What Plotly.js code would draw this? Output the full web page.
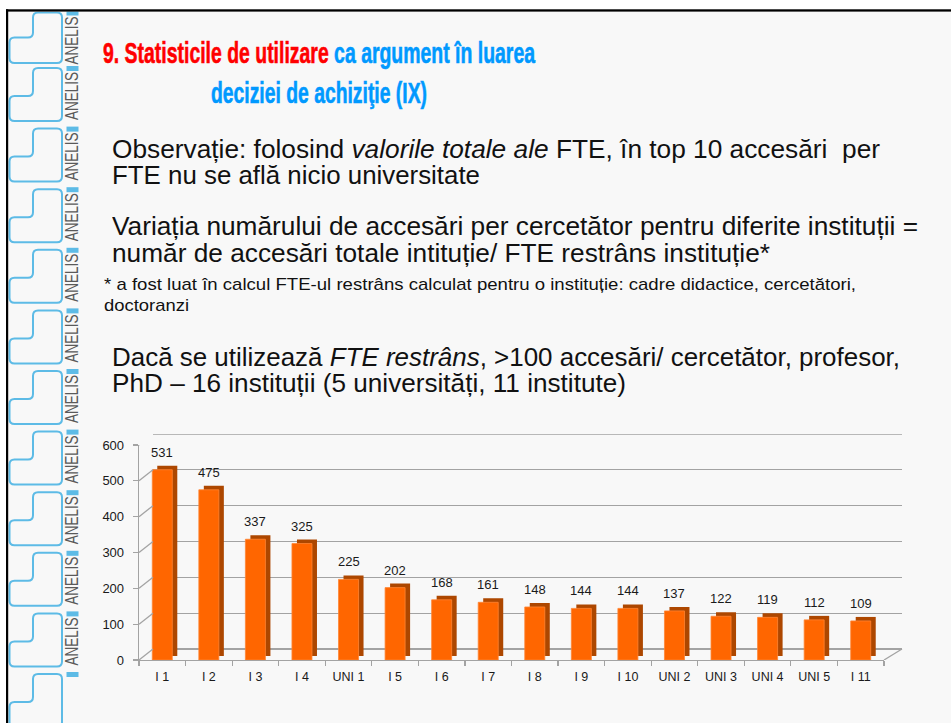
<!DOCTYPE html>
<html>
<head>
<meta charset="utf-8">
<script src="https://cdn.plot.ly/plotly-3.0.1.min.js"></script>
<style>
  html, body { margin:0; padding:0; background:#ffffff; }
  #page { position:relative; width:951px; height:723px; overflow:hidden; background:#ffffff; }
  #slide { position:absolute; left:7px; top:10px; width:944px; height:713px; background:#f8f8f8; }
  #deco { position:absolute; left:0; top:0; }
  .t { position:absolute; white-space:nowrap; font-family:"Liberation Sans", Arial, sans-serif; color:#111; transform-origin:0 0; }
  .ttl { font-weight:bold; font-family:"Liberation Sans Narrow","Liberation Sans", Arial, sans-serif; }
  .red { color:#ff0000; -webkit-text-stroke:0.6px #ff0000; }
  .blue { color:#0099ff; -webkit-text-stroke:0.6px #0099ff; }
  #chart { position:absolute; left:0; top:0; width:951px; height:723px; }
</style>
</head>
<body>
<div id="page">
  <div id="slide"></div>
  <svg id="deco" width="951" height="723"></svg>
  <div class="t ttl" id="t1"><span class="red">9. Statisticile de utilizare</span><span class="blue"> ca argument în luarea</span></div>
  <div class="t ttl blue" id="t2">deciziei de achiziţie (IX)</div>
  <div class="t" id="p1">Observație: folosind <i>valorile totale ale</i> FTE, în top 10 accesări&nbsp; per</div>
  <div class="t" id="p2">FTE nu se află nicio universitate</div>
  <div class="t" id="p3">Variația numărului de accesări per cercetător pentru diferite instituții =</div>
  <div class="t" id="p4">număr de accesări totale intituție/ FTE restrâns instituție*</div>
  <div class="t" id="f1">* a fost luat în calcul FTE-ul restrâns calculat pentru o instituție: cadre didactice, cercetători,</div>
  <div class="t" id="f2">doctoranzi</div>
  <div class="t" id="p5">Dacă se utilizează <i>FTE restrâns</i>, &gt;100 accesări/ cercetător, profesor,</div>
  <div class="t" id="p6">PhD – 16 instituții (5 universități, 11 institute)</div>
  <div id="chart"></div>
</div>
<script>
// ---- data ----
const categories = ['I 1','I 2','I 3','I 4','UNI 1','I 5','I 6','I 7','I 8','I 9','I 10','UNI 2','UNI 3','UNI 4','UNI 5','I 11'];
const accessValues = [531,475,337,325,225,202,168,161,148,144,144,137,122,119,112,109];
const yTickValues = [0,100,200,300,400,500,600];

// ---- slide decoration (left strip) ----
(function(){
  const svg = document.getElementById('deco');
  let html = '<defs><clipPath id="cp"><rect x="8" y="11.5" width="943" height="712"/></clipPath></defs><g clip-path="url(#cp)">';
  const cells = [];
  cells.push({t:12.5, h:50.5, s:25});
  for (let k = 0; k < 11; k++) cells.push({t:68 + 60.6*k, h:53, s:28});
  const r = 5;
  cells.forEach((c, idx) => {
    const t = c.t, b = c.t + c.h, s = c.t + c.s;
    const d = `M33,${t+r} Q33,${t} ${33+r},${t} L${62-r},${t} Q62,${t} 62,${t+r} L62,${b-r} Q62,${b} ${62-r},${b} L${9.5+r},${b} Q9.5,${b} 9.5,${b-r} L9.5,${s+r} Q9.5,${s} ${9.5+r},${s} L${33-r},${s} Q33,${s} 33,${s-r} Z`;
    html += `<path d="${d}" fill="none" stroke="#5dbbe6" stroke-width="2"/>`;
    html += `<rect x="66.5" y="${t-2}" width="12" height="5" fill="#5dbbe6"/>`;
    const cy = t + 52;
    if (cy < 720) {
      html += `<text x="0" y="0" transform="translate(78.3,${cy}) rotate(-90)" font-family="Liberation Sans, Arial, sans-serif" font-size="18" fill="#5a5a5a" textLength="48" lengthAdjust="spacingAndGlyphs">ANELIS</text>`;
    }
  });
  // last partial cell at the bottom edge
  const tl = 68 + 60.6*11;
  html += `<path d="M33,${tl+5} Q33,${tl} 38,${tl} L57,${tl} Q62,${tl} 62,${tl+5} L62,730 M9.5,730 L9.5,${tl+33} Q9.5,${tl+28} 14.5,${tl+28} L28,${tl+28} Q33,${tl+28} 33,${tl+23} Z" fill="none" stroke="#5dbbe6" stroke-width="2"/>`;
  html += `<rect x="66.5" y="${tl-2}" width="12" height="5" fill="#5dbbe6"/>`;
  html += '</g>';
  html += '<rect x="6" y="9.3" width="945" height="2.3" fill="#000"/>';
  html += '<rect x="6" y="9.3" width="2.2" height="714" fill="#000"/>';
  svg.innerHTML = html;
})();

// ---- text placement ----
function place(id, left, right, baseline, size){
  const el = document.getElementById(id);
  el.style.fontSize = size + 'px';
  el.style.lineHeight = size + 'px';
  el.style.left = left + 'px';
  el.style.top = (baseline - 0.8465*size) + 'px';
  const w = el.getBoundingClientRect().width;
  el.style.transform = 'scaleX(' + ((right - left) / w) + ')';
}
place('t1', 103, 535, 63, 30);
place('t2', 211, 427, 103.5, 30);
place('p1', 112, 880, 158.5, 25.5);
place('p2', 112, 480, 185, 25.5);
place('p3', 112, 918, 236, 25.5);
place('p4', 112, 770, 263, 25.5);
place('f1', 104, 856, 290, 17);
place('f2', 104, 189, 311, 17);
place('p5', 112, 900, 367, 25.5);
place('p6', 112, 626, 393, 25.5);

// ---- chart ----
const W = 763, H = 226;   // plot area in px (x 139..902, y 434..660)
const gridColor = '#a3a3a3';
const fontFam = 'Liberation Sans, Arial, sans-serif';

const traces = [
  { type:'scatter', x:[], y:[], xaxis:'x', yaxis:'y', hoverinfo:'skip', showlegend:false },
  { type:'bar', x:categories, y:accessValues, xaxis:'x2', yaxis:'y2', width:0.43,
    marker:{color:'#ad4700'}, hoverinfo:'skip', showlegend:false },
  { type:'bar', x:categories, y:accessValues, xaxis:'x3', yaxis:'y3', width:0.43,
    marker:{color:'#ff6600', line:{color:'#ff8534', width:0.8}}, showlegend:false }
];

const shapes = yTickValues.map(v => ({
  type:'line', xref:'paper', xsizemode:'pixel', xanchor:0, x0:0, x1:14,
  yref:'y3', ysizemode:'pixel', yanchor:v, y0:0, y1:11,
  line:{color:gridColor, width:1.3}
}));
shapes.push({
  type:'line', xref:'paper', xsizemode:'pixel', xanchor:745/W, x0:0, x1:18,
  yref:'y3', ysizemode:'pixel', yanchor:0, y0:0, y1:11,
  line:{color:gridColor, width:1.3}
});
// back-wall gridline at the top tick (Plotly skips gridlines at the range end)
shapes.push({
  type:'line', xref:'paper', x0:14/W, x1:1, yref:'y',
  y0:yTickValues[yTickValues.length-1], y1:yTickValues[yTickValues.length-1],
  line:{color:gridColor, width:1.3}, layer:'below'
});

const annotations = accessValues.map((v, i) => ({
  xref:'x3', yref:'y3', x:i, y:v, text:String(v), showarrow:false,
  yanchor:'bottom', yshift:8, font:{family:fontFam, size:13, color:'#1a1a1a'}
}));

const layout = {
  width:951, height:723,
  margin:{l:139, r:49, t:434, b:63, pad:0},
  paper_bgcolor:'rgba(0,0,0,0)', plot_bgcolor:'rgba(0,0,0,0)',
  showlegend:false, barmode:'overlay',
  font:{family:fontFam, color:'#1a1a1a'},
  xaxis:{ domain:[14/W, 1], range:[-0.5,15.5], type:'category', visible:false, anchor:'y', fixedrange:true },
  yaxis:{ domain:[11/H, 1], range:[0,600], dtick:100, tick0:0, showgrid:true, gridcolor:gridColor, gridwidth:1.3,
          zeroline:true, zerolinecolor:gridColor, zerolinewidth:1.3,
          showticklabels:false, ticks:'', showline:false, anchor:'x', fixedrange:true },
  xaxis2:{ domain:[5/W, 750/W], range:[-0.5,15.5], type:'category', visible:false, anchor:'y2', fixedrange:true },
  yaxis2:{ domain:[4/H, 219/H], range:[0,600], visible:false, anchor:'x2', fixedrange:true },
  xaxis3:{ domain:[0, 745/W], range:[-0.5,15.5], type:'category', anchor:'y3',
           showline:true, linecolor:gridColor, linewidth:1.3, showgrid:false, zeroline:false,
           ticks:'outside', ticklen:5, tickcolor:gridColor, tickwidth:1.2, tickson:'boundaries',
           ticklabelstandoff:5,
           tickfont:{family:fontFam, size:12.5, color:'#1a1a1a'}, fixedrange:true },
  yaxis3:{ domain:[0, 215/H], range:[0,600], dtick:100, tick0:0, anchor:'x3',
           showline:true, linecolor:gridColor, linewidth:1.3, showgrid:false, zeroline:false,
           ticks:'outside', ticklen:5, tickcolor:gridColor, tickwidth:1.2, ticklabelstandoff:6,
           tickfont:{family:fontFam, size:13, color:'#1a1a1a'}, fixedrange:true },
  shapes:shapes,
  annotations:annotations
};

Plotly.newPlot('chart', traces, layout, {staticPlot:true, displayModeBar:false});
</script>
</body>
</html>
